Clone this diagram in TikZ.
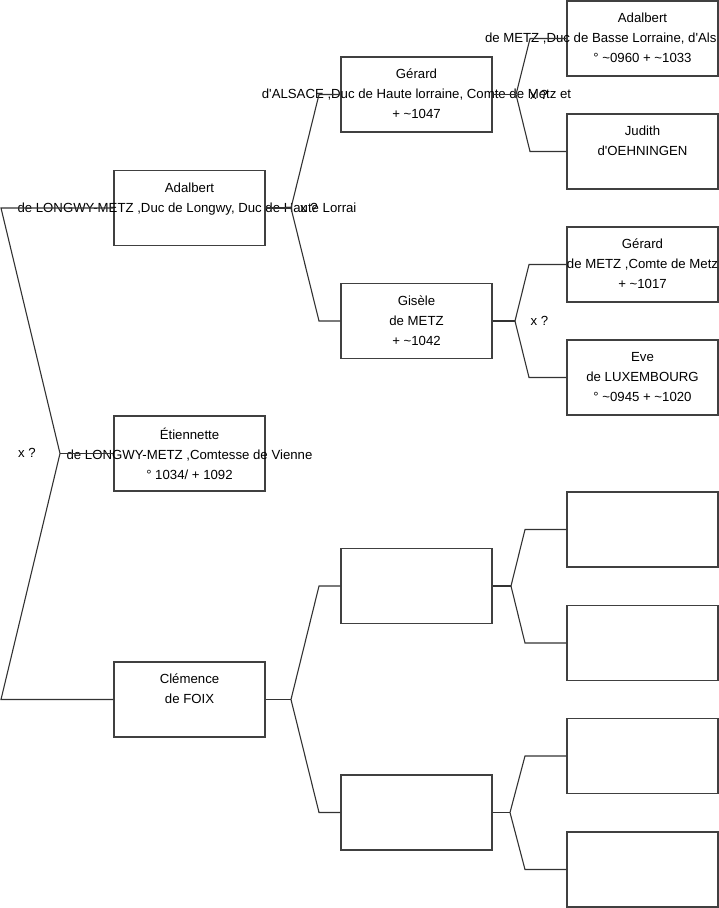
\documentclass[tikz,border=0pt]{standalone}
\usepackage{fontspec}
\setmainfont{Liberation Sans}[Ligatures=TeXOff]
\usetikzlibrary{positioning}

\newcommand{\ca}{\textasciitilde}

\begin{document}
\begin{tikzpicture}[x=1pt,y=-1pt,
    person/.style={rectangle,draw=black!75,line width=1.1pt,minimum width=151pt,minimum height=75pt,inner sep=0pt},
    txt/.style={anchor=north,align=center,inner sep=0pt,yshift=-12.5pt,font=\fontsize{13.2}{20}\selectfont,execute at begin node=\strut},
    link/.style={draw=black!80,line width=1.1pt},
    union/.style={inner sep=0pt,font=\fontsize{13.2}{20}\selectfont}]
    \useasboundingbox (0,0) rectangle (719,908);
    \clip (0,0) rectangle (719,908);

    % Generation 1
    \node[person] (adalbert) at (189.5,208) {};
    \node[person] (etiennette) at (189.5,453.5) {};
    \node[person] (clemence) at (189.5,699.5) {};
    \node[txt] (adalberttxt) at (adalbert.north) {Adalbert\\de LONGWY-METZ ,Duc de Longwy, Duc de Haute Lorrai\hspace*{5pt}};
    \node[txt] (etiennettetxt) at (etiennette.north) {Étiennette\\de LONGWY-METZ ,Comtesse de Vienne\hspace*{10pt}\\° 1034/ + 1092};
    \node[txt] (clemencetxt) at (clemence.north) {Clémence\\de FOIX};

    % Generation 2
    \node[person] (gerard) at (416.5,94.5) {};
    \node[person] (gisele) at (416.5,321) {};
    \node[person] (clemencep) at (416.5,586) {};
    \node[person] (clemencem) at (416.5,812.5) {};
    \node[txt] (gerardtxt) at (gerard.north) {Gérard\\d'ALSACE ,Duc de Haute lorraine, Comte de Metz et\hspace*{9pt}\\+ \ca1047};
    \node[txt] (giseletxt) at (gisele.north) {Gisèle\\de METZ\\+ \ca1042};

    % Generation 3
    \node[person] (adalbertm) at (642.5,38.5) {};
    \node[person] (judith) at (642.5,151.5) {};
    \node[person] (gerardm) at (642.5,264.5) {};
    \node[person] (eve) at (642.5,377.5) {};
    \node[person] (emptya) at (642.5,529.5) {};
    \node[person] (emptyb) at (642.5,643) {};
    \node[person] (emptyc) at (642.5,756) {};
    \node[person] (emptyd) at (642.5,869.5) {};
    \node[txt] (adalbertmtxt) at (adalbertm.north) {Adalbert\\\makebox[315pt][l]{de METZ ,Duc de Basse Lorraine, d'Als}\\° \ca0960 + \ca1033};
    \node[txt] (judithtxt) at (judith.north) {Judith\\d'OEHNINGEN};
    \node[txt] (gerardmtxt) at (gerardm.north) {Gérard\\de METZ ,Comte de Metz\hspace*{5pt}\\+ \ca1017};
    \node[txt] (evetxt) at (eve.north) {Eve\\de LUXEMBOURG\\° \ca0945 + \ca1020};

    % Marriage marks
    \node[union] (x0) at (27,453) {x ?};
    \node[union] (x1) at (309,208) {x ?};
    \node[union] (x2) at (539,95) {x ?};
    \node[union] (x3) at (539.5,321) {x ?};

    % Fork points and elbows
    \coordinate (f0) at (60,453.5);
    \coordinate (e0a) at (1,208);
    \coordinate (e0b) at (1,699.5);
    \coordinate (f1) at (291,208);
    \coordinate (e1a) at (319,94.5);
    \coordinate (e1b) at (319,321);
    \coordinate (f2) at (291,699.5);
    \coordinate (e2a) at (319,586);
    \coordinate (e2b) at (319,812.5);
    \coordinate (f3) at (516,94.5);
    \coordinate (e3a) at (530,38.5);
    \coordinate (e3b) at (530,151.5);
    \coordinate (f4) at (515,321);
    \coordinate (e4a) at (529,264.5);
    \coordinate (e4b) at (529,377.5);
    \coordinate (f5) at (511,586);
    \coordinate (e5a) at (525,529.5);
    \coordinate (e5b) at (525,643);
    \coordinate (f6) at (510,812.5);
    \coordinate (e6a) at (525,756);
    \coordinate (e6b) at (525,869.5);

    % Connectors
    \draw[link] (etiennette.west) -- (f0);
    \draw[link] (f0) -- (e0a) -- (adalbert.west);
    \draw[link] (f0) -- (e0b) -- (clemence.west);
    \draw[link] (adalbert.east) -- (f1);
    \draw[link] (f1) -- (e1a) -- (gerard.west);
    \draw[link] (f1) -- (e1b) -- (gisele.west);
    \draw[link] (clemence.east) -- (f2);
    \draw[link] (f2) -- (e2a) -- (clemencep.west);
    \draw[link] (f2) -- (e2b) -- (clemencem.west);
    \draw[link] (gerard.east) -- (f3);
    \draw[link] (f3) -- (e3a) -- (adalbertm.west);
    \draw[link] (f3) -- (e3b) -- (judith.west);
    \draw[link] (gisele.east) -- (f4);
    \draw[link] (f4) -- (e4a) -- (gerardm.west);
    \draw[link] (f4) -- (e4b) -- (eve.west);
    \draw[link] (clemencep.east) -- (f5);
    \draw[link] (f5) -- (e5a) -- (emptya.west);
    \draw[link] (f5) -- (e5b) -- (emptyb.west);
    \draw[link] (clemencem.east) -- (f6);
    \draw[link] (f6) -- (e6a) -- (emptyc.west);
    \draw[link] (f6) -- (e6b) -- (emptyd.west);
\end{tikzpicture}
\end{document}
